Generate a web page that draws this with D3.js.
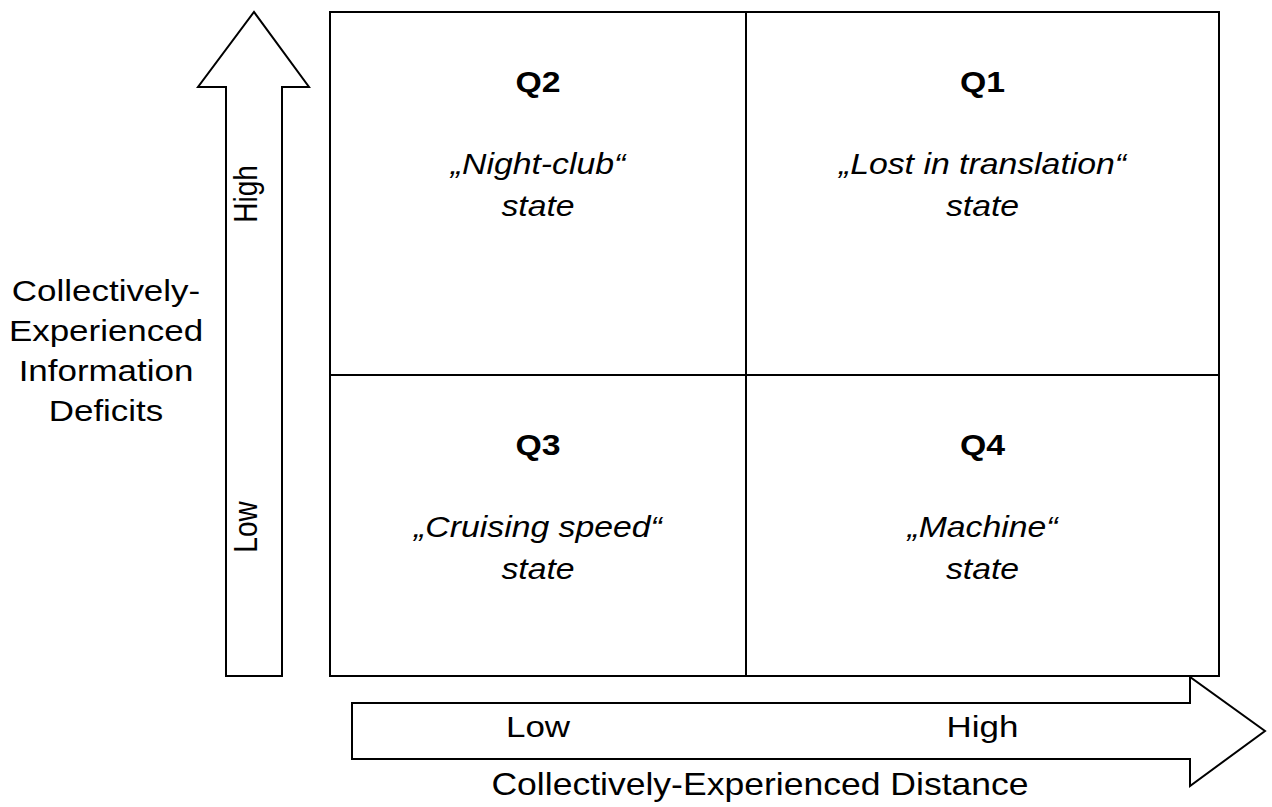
<!DOCTYPE html>
<html><head><meta charset="utf-8">
<script src="https://cdn.jsdelivr.net/npm/d3@7"></script>
<style>body{margin:0;background:#fff}svg{display:block}</style>
</head><body><svg id="c" width="1272" height="807"></svg>
<script>
const quadrants = ["Q2","Q1","Q3","Q4"];
const quadrantStates = [["„Night-club“","state"],["„Lost in translation“","state"],["„Cruising speed“","state"],["„Machine“","state"]];
const quadCol = [0,1,0,1];
const quadRow = [0,0,1,1];
const levels = ["Low","High"];
const yAxisTitle = ["Collectively-","Experienced","Information","Deficits"];
const xAxisTitle = "Collectively-Experienced Distance";

const svg = d3.select("#c");
const x = d3.scaleLinear().domain([0,1,2]).range([330,746,1219]);
const y = d3.scaleLinear().domain([0,1,2]).range([12,375,676]);
const font = "'Liberation Sans', Arial, sans-serif";
const SX = 1.165; // horizontal stretch of the reference rendering

function txt(tx, ty, s, opts = {}) {
  const t = svg.append("text")
    .attr("transform", `translate(${tx},${ty}) scale(${SX},1)` + (opts.rotate ? ` rotate(${opts.rotate})` : ""))
    .attr("text-anchor","middle").attr("font-family",font)
    .attr("font-size",opts.size || 30).attr("fill","#000").text(s);
  if (opts.bold) t.attr("font-weight","bold");
  if (opts.italic) t.attr("font-style","italic");
  return t;
}

// grid box
svg.append("rect").attr("x",x(0)).attr("y",y(0)).attr("width",x(2)-x(0)).attr("height",y(2)-y(0))
  .attr("fill","none").attr("stroke","#000").attr("stroke-width",2);
svg.append("line").attr("x1",x(1)).attr("x2",x(1)).attr("y1",y(0)).attr("y2",y(2)).attr("stroke","#000").attr("stroke-width",2);
svg.append("line").attr("x1",x(0)).attr("x2",x(2)).attr("y1",y(1)).attr("y2",y(1)).attr("stroke","#000").attr("stroke-width",2);

// quadrant text
quadrants.forEach((q,i)=>{
  const cx = (x(quadCol[i])+x(quadCol[i]+1))/2;
  const top = y(quadRow[i]);
  txt(cx, top+80, q, {bold:true, size:29});
  quadrantStates[i].forEach((s,j)=>{
    txt(cx, top+162+j*42, s, {italic:true, size:29});
  });
});

// vertical arrow
const up = d3.path();
up.moveTo(226,676); up.lineTo(226,87); up.lineTo(198,87); up.lineTo(254,12);
up.lineTo(309,87); up.lineTo(282,87); up.lineTo(282,676); up.closePath();
svg.append("path").attr("d",up.toString()).attr("fill","#fff").attr("stroke","#000").attr("stroke-width",2);

// horizontal arrow
const rt = d3.path();
rt.moveTo(352,703); rt.lineTo(1190,703); rt.lineTo(1190,677); rt.lineTo(1265,731);
rt.lineTo(1190,786); rt.lineTo(1190,759); rt.lineTo(352,759); rt.closePath();
svg.append("path").attr("d",rt.toString()).attr("fill","#fff").attr("stroke","#000").attr("stroke-width",2);

// x levels
levels.forEach((l,i)=>{
  txt((x(i)+x(i+1))/2, 737, l, {size:30});
});
// y levels (rotated)
const yLevelCenters = [527, 194];
levels.forEach((l,i)=>{
  txt(257, yLevelCenters[i], l, {size:28, rotate:-90});
});

// axis titles
txt(760, 795, xAxisTitle, {size:30.5});
yAxisTitle.forEach((t,i)=>{
  txt(106, 301+i*40, t, {size:30});
});
</script></body></html>
